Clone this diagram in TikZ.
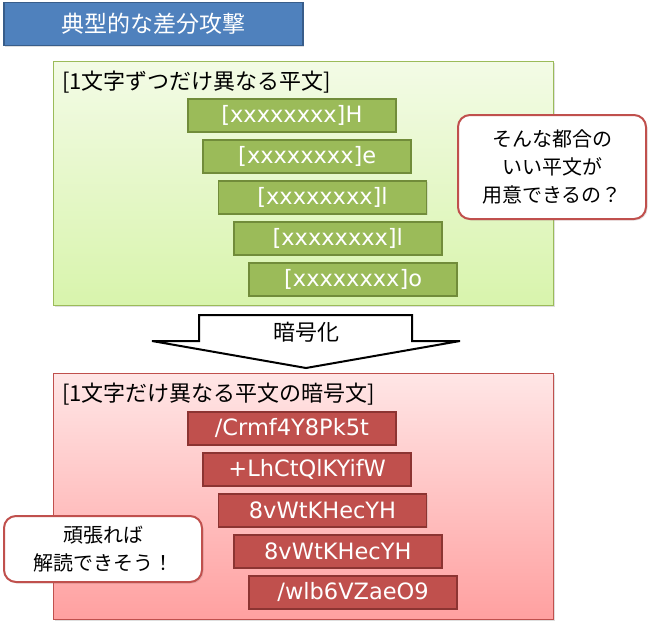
\documentclass[tikz,border=0pt]{standalone}
\usepackage{fontspec}
\setmainfont{Noto Sans CJK JP}
\newfontfamily\barfont{DejaVu Sans}
\usetikzlibrary{positioning,shadows}
\definecolor{atkBlue}{RGB}{79,129,189}
\definecolor{atkBlueLine}{RGB}{56,93,138}
\definecolor{atkGreen}{RGB}{155,187,89}
\definecolor{atkGreenLine}{RGB}{113,140,58}
\definecolor{atkGreenTop}{RGB}{243,251,230}
\definecolor{atkGreenBot}{RGB}{216,244,172}
\definecolor{atkRed}{RGB}{192,80,77}
\definecolor{atkRedLine}{RGB}{140,52,50}
\definecolor{atkRedTop}{RGB}{255,230,230}
\definecolor{atkRedBot}{RGB}{255,160,160}

\begin{document}
\begin{tikzpicture}[x=1pt,y=-1pt]
    \tikzset{
      headbox/.style={draw=atkBlueLine,line width=1.5pt,fill=atkBlue,text=white,minimum width=299pt,minimum height=43pt,font=\fontsize{23}{27}\selectfont,drop shadow={opacity=0.25,shadow xshift=1.5pt,shadow yshift=-1.5pt}},
      panel/.style={line width=1pt,minimum width=500pt,drop shadow={opacity=0.25,shadow xshift=1.5pt,shadow yshift=-1.5pt}},
      panelhead/.style={inner sep=0pt,font=\fontsize{22}{26}\selectfont},
      barbox/.style={line width=1.8pt,minimum width=208pt,minimum height=33pt,text=white,font=\barfont\fontsize{22.5}{26}\selectfont,inner sep=0pt,drop shadow={opacity=0.2,shadow xshift=1pt,shadow yshift=-1pt}},
      bubble/.style={rounded corners=12pt,draw=atkRed,line width=2pt,fill=white,align=center,font=\fontsize{20}{28}\selectfont,drop shadow={opacity=0.2,shadow xshift=1.5pt,shadow yshift=-1.5pt}}
    }
    \useasboundingbox (0,0) rectangle (650,626);
    \node[headbox,anchor=north west] (head) at (3,2) {典型的な差分攻撃};
    % plaintext panel
    \node[panel,draw=atkGreen,top color=atkGreenTop,bottom color=atkGreenBot,minimum height=244pt,anchor=north west] (plain) at (53,61) {};
    \node[panelhead,anchor=west] (plainhead) at (62,82) {[1文字ずつだけ異なる平文]};
    \foreach \t [count=\i] in {{[xxxxxxxx]H},{[xxxxxxxx]e},{[xxxxxxxx]l},{[xxxxxxxx]l},{[xxxxxxxx]o}}
      \node[barbox,draw=atkGreenLine,fill=atkGreen,anchor=north west] (p\i) at ({187+15.3*(\i-1)},{98+41*(\i-1)}) {\t};
    % ciphertext panel
    \node[panel,draw=atkRed,top color=atkRedTop,bottom color=atkRedBot,minimum height=246pt,anchor=north west] (cipher) at (53,373) {};
    \node[panelhead,anchor=west] (cipherhead) at (62,394) {[1文字だけ異なる平文の暗号文]};
    \foreach \t [count=\i] in {/Crmf4Y8Pk5t,+LhCtQlKYifW,8vWtKHecYH,8vWtKHecYH,/wlb6VZaeO9}
      \node[barbox,draw=atkRedLine,fill=atkRed,anchor=north west] (c\i) at ({187+15.3*(\i-1)},{411+41*(\i-1)}) {\t};
    % block arrow
    \draw[line width=2pt,fill=white,line join=miter] (199,315) -- (412,315) -- (412,341) -- (460,341) -- (306,368) -- (152,341) -- (199,341) -- cycle;
    \node[font=\fontsize{22}{26}\selectfont] (enc) at (306,332) {暗号化};
    % remarks
    \node[bubble,minimum width=188pt,minimum height=104pt] (ask) at (552,167) {そんな都合の\\いい平文が\\用意できるの？};
    \node[bubble,minimum width=198pt,minimum height=66pt] (hope) at (103,549) {頑張れば\\解読できそう！};
\end{tikzpicture}
\end{document}
